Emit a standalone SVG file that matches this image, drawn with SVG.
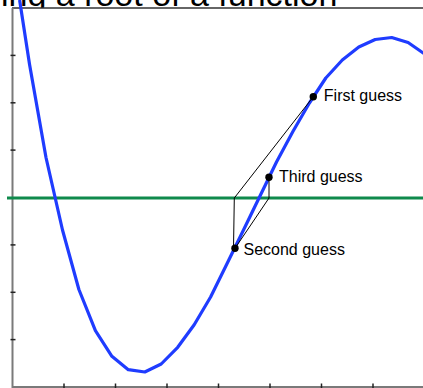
<svg xmlns="http://www.w3.org/2000/svg" width="423" height="388" viewBox="0 0 423 388">
<style>
.title{font-family:"Liberation Sans",Arial,sans-serif;font-size:34px;fill:#000}
.lbl{font-family:"Liberation Sans",Arial,sans-serif;font-size:16px;fill:#000}
.tick{stroke:#222;stroke-width:1.5}
.axis{stroke:#7a7a7a;stroke-width:2;fill:none}
.guide{stroke:#000;stroke-width:1;fill:none}
.dot{fill:#000}
</style>
<rect x="0" y="0" width="423" height="388" fill="#fff"/>
<text class="title" x="337.4" y="5.5" text-anchor="end">Finding a root of a function</text>
<g id="plot-area">
<rect x="12" y="8" width="411" height="380" fill="#fff"/>
<line x1="12" y1="8" x2="423" y2="8" stroke="#333" stroke-width="1.5"/>
<line class="axis" x1="12.5" y1="8" x2="12.5" y2="388"/>
<line class="axis" x1="12" y1="387" x2="423" y2="387"/>
<g id="y-ticks">
<line class="tick" x1="10.5" y1="55.4" x2="15.5" y2="55.4"/>
<line class="tick" x1="10.5" y1="102.8" x2="15.5" y2="102.8"/>
<line class="tick" x1="10.5" y1="150.1" x2="15.5" y2="150.1"/>
<line class="tick" x1="10.5" y1="244.9" x2="15.5" y2="244.9"/>
<line class="tick" x1="10.5" y1="292.3" x2="15.5" y2="292.3"/>
<line class="tick" x1="10.5" y1="339.6" x2="15.5" y2="339.6"/>
</g>
<g id="x-ticks">
<line class="tick" x1="64" y1="383.5" x2="64" y2="388"/>
<line class="tick" x1="115.5" y1="383.5" x2="115.5" y2="388"/>
<line class="tick" x1="167" y1="383.5" x2="167" y2="388"/>
<line class="tick" x1="218.5" y1="383.5" x2="218.5" y2="388"/>
<line class="tick" x1="270" y1="383.5" x2="270" y2="388"/>
<line class="tick" x1="321.5" y1="383.5" x2="321.5" y2="388"/>
<line class="tick" x1="373" y1="383.5" x2="373" y2="388"/>
</g>
</g>
<g id="zero-line">
<line x1="7" y1="198" x2="423" y2="198" stroke="#0f8a4c" stroke-width="3"/>
</g>
<g id="function-curve">
<polyline fill="none" stroke="#1f3cff" stroke-width="3.2" stroke-linejoin="round" points="19.6,0 29.56,64.5 46,157.5 62.5,230 78.9,289.5 95.4,330.7 111.9,356.3 128.3,369.7 144.8,372 161.2,364 177.7,347.3 194.2,324.7 210.6,297 227.1,263.5 243.5,230 260,196 276.5,162 292.9,131.5 309.4,103 325.8,78 342.3,60 358.8,47 375.2,39.5 391.7,37.5 408.1,42.5 424.6,54"/>
</g>
<g id="connectors">
<polyline class="guide" points="313.3,96.7 234.3,198 233.5,248.3"/>
<polyline class="guide" points="235,248.3 269,198 269,177.3"/>
</g>
<g id="first-guess">
<circle class="dot" cx="313.3" cy="96.7" r="3.7"/>
<text class="lbl" x="323.8" y="101">First guess</text>
</g>
<g id="second-guess">
<circle class="dot" cx="235" cy="248.3" r="3.7"/>
<text class="lbl" x="243.5" y="255">Second guess</text>
</g>
<g id="third-guess">
<circle class="dot" cx="269" cy="177.3" r="3.7"/>
<text class="lbl" x="279" y="181.5">Third guess</text>
</g>
</svg>
